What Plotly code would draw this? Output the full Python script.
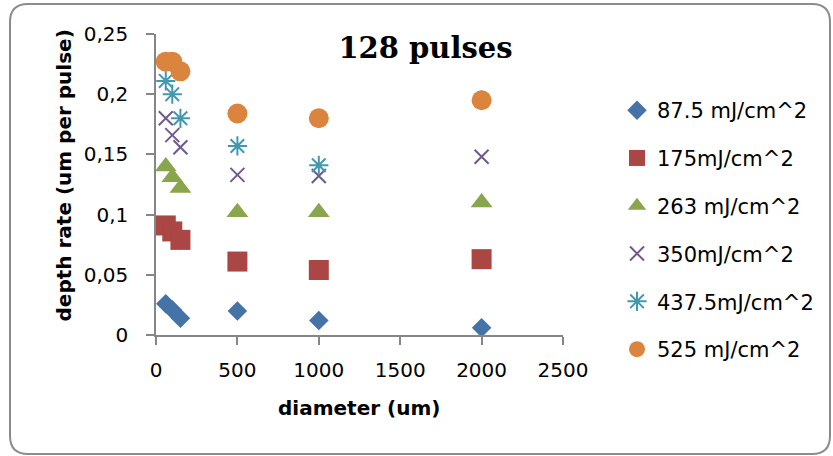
import plotly.graph_objects as go

# Crater diameters (um) and depth per pulse for each fluence, 128 pulses
diameter = [60, 100, 150, 500, 1000, 2000]

rate_87_5 = [0.026, 0.021, 0.014, 0.020, 0.012, 0.006]
rate_175 = [0.091, 0.086, 0.079, 0.061, 0.054, 0.063]
rate_263 = [0.140, 0.131, 0.122, 0.102, 0.102, 0.110]
rate_350 = [0.180, 0.166, 0.156, 0.133, 0.132, 0.148]
rate_437_5 = [0.211, 0.200, 0.180, 0.157, 0.141, 0.195]
rate_525 = [0.227, 0.227, 0.219, 0.184, 0.180, 0.195]

series_names = ["87.5 mJ/cm^2", "175mJ/cm^2", "263 mJ/cm^2",
                "350mJ/cm^2", "437.5mJ/cm^2", "525 mJ/cm^2"]

x_ticks = [0, 500, 1000, 1500, 2000, 2500]
y_ticks = [0, 0.05, 0.1, 0.15, 0.2, 0.25]

series = [rate_87_5, rate_175, rate_263, rate_350, rate_437_5, rate_525]
colors = ["#4572A7", "#AA4643", "#89A54E", "#71588F", "#4198AF", "#DB843D"]
symbols = ["diamond", "square", "triangle-up", "x-thin-open", "asterisk-open", "circle"]
sizes = [15, 20, 19, 14, 16, 20]

W, H = 833, 456
L, R, T, B = 156, 563, 34, 335


def px(x):
    return (x - L) / (R - L)


def py(y):
    return (B - y) / (B - T)


fig = go.Figure()
for i, (vals, name) in enumerate(zip(series, series_names)):
    open_sym = symbols[i].endswith("-open")
    fig.add_trace(go.Scatter(
        x=diameter, y=vals, name=name, mode="markers",
        legendgroup=str(i),
        marker=dict(symbol=symbols[i], size=sizes[i], color=colors[i],
                    line=dict(width=2 if open_sym else 0, color=colors[i])),
    ))

# rounded frame around the whole chart
bl, br, bt, bb, rad = 10, 830, 4, 454, 18
frame = (
    f"M {px(bl + rad)},{py(bt)} L {px(br - rad)},{py(bt)} "
    f"Q {px(br)},{py(bt)} {px(br)},{py(bt + rad)} "
    f"L {px(br)},{py(bb - rad)} Q {px(br)},{py(bb)} {px(br - rad)},{py(bb)} "
    f"L {px(bl + rad)},{py(bb)} Q {px(bl)},{py(bb)} {px(bl)},{py(bb - rad)} "
    f"L {px(bl)},{py(bt + rad)} Q {px(bl)},{py(bt)} {px(bl + rad)},{py(bt)} Z"
)

axis_font = dict(family="DejaVu Sans", size=20, color="black")

fig.update_layout(
    width=W, height=H,
    margin=dict(l=L, r=W - R, t=T, b=H - B, autoexpand=False),
    paper_bgcolor="white", plot_bgcolor="white",
    separators=",.",
    font=dict(family="DejaVu Sans", color="black"),
    title=dict(text="<b>128 pulses</b>", x=px(425.5), xref="paper", xanchor="center",
               y=1 - 47.5 / H, yref="container", yanchor="middle",
               font=dict(family="DejaVu Serif", size=29, color="black")),
    xaxis=dict(range=[0, 2500], tickvals=x_ticks, showgrid=False, zeroline=False,
               showline=True, linecolor="#868686", linewidth=1.5,
               ticks="outside", ticklen=8, tickcolor="#868686", tickwidth=1.5,
               tickfont=axis_font, ticklabelstandoff=8, fixedrange=True),
    yaxis=dict(range=[0, 0.25], tickvals=y_ticks, showgrid=False, zeroline=False,
               showline=True, linecolor="#868686", linewidth=1.5,
               ticks="outside", ticklen=8, tickcolor="#868686", tickwidth=1.5,
               tickfont=axis_font, ticklabelstandoff=14, fixedrange=True),
    legend=dict(x=px(617), xanchor="left", y=py(90), yanchor="top",
                font=dict(family="DejaVu Sans", size=21, color="black"),
                traceorder="grouped", tracegroupgap=17.5, bgcolor="rgba(0,0,0,0)"),
    showlegend=True,
    shapes=[dict(type="path", xref="paper", yref="paper", path=frame,
                 line=dict(color="#8c8c8c", width=2), layer="below")],
    annotations=[
        dict(text="<b>diameter (um)</b>", xref="paper", yref="paper",
             x=px(359), y=py(408), showarrow=False, xanchor="center", yanchor="middle",
             font=dict(family="DejaVu Sans", size=20, color="black")),
        dict(text="<b>depth rate (um per pulse)</b>", xref="paper", yref="paper",
             x=px(63), y=py(175.5), showarrow=False, textangle=-90,
             xanchor="center", yanchor="middle",
             font=dict(family="DejaVu Sans", size=20, color="black")),
    ],
)

fig.write_html("out.html", config={"displayModeBar": False})
